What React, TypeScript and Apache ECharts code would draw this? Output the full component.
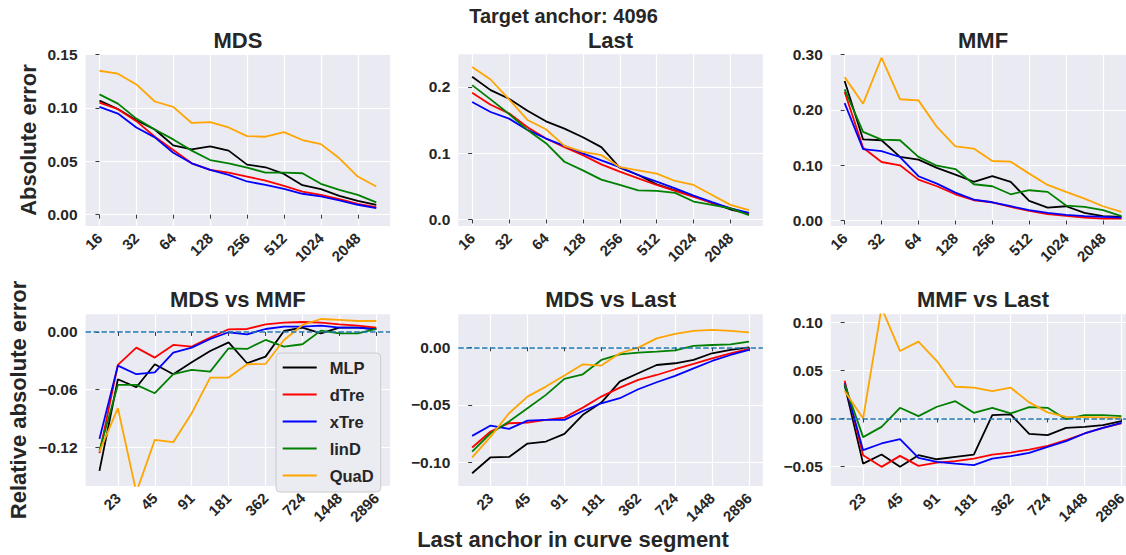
import React, { useEffect, useRef } from "react";
import * as echarts from "echarts";

// ---------- data ----------
const anchors = ["16", "23", "32", "45", "64", "91", "128", "181", "256", "362", "512", "724", "1024", "1448", "2048", "2896"];
const models = ["MLP", "dTre", "xTre", "linD", "QuaD"];
const modelColors = ["#000000", "#ff0000", "#0000ff", "#008000", "#ffa500"];

const topTickIdx = [0, 2, 4, 6, 8, 10, 12, 14];
const bottomTickIdx = [1, 3, 5, 7, 9, 11, 13, 15];

// MDS (absolute error)
const mdsMLP = [0.1068, 0.099, 0.0885, 0.0798, 0.0649, 0.0612, 0.064, 0.06, 0.0469, 0.0444, 0.0382, 0.0276, 0.0239, 0.0177, 0.013, 0.0093];
const mdsDTre = [0.105, 0.0988, 0.0876, 0.073, 0.0606, 0.0481, 0.0419, 0.0394, 0.0357, 0.032, 0.027, 0.0217, 0.0186, 0.0146, 0.0102, 0.0071];
const mdsXTre = [0.101, 0.0947, 0.0817, 0.0724, 0.058, 0.0481, 0.0419, 0.0373, 0.0311, 0.028, 0.0242, 0.0196, 0.0171, 0.0134, 0.0093, 0.0062];
const mdsLinD = [0.1127, 0.104, 0.09, 0.0798, 0.0705, 0.06, 0.0512, 0.0481, 0.0441, 0.0394, 0.0394, 0.0388, 0.0289, 0.0233, 0.0186, 0.0115];
const mdsQuaD = [0.1348, 0.132, 0.122, 0.106, 0.101, 0.0859, 0.0866, 0.0817, 0.0736, 0.073, 0.0773, 0.0699, 0.0661, 0.0528, 0.0357, 0.0264];

// Last (absolute error)
const lastMLP = [0.215, 0.195, 0.182, 0.164, 0.148, 0.137, 0.124, 0.109, 0.078, 0.067, 0.053, 0.044, 0.035, 0.025, 0.015, 0.009];
const lastDTre = [0.191, 0.173, 0.16, 0.139, 0.122, 0.109, 0.097, 0.083, 0.072, 0.062, 0.052, 0.043, 0.034, 0.025, 0.0166, 0.008];
const lastXTre = [0.177, 0.162, 0.152, 0.135, 0.122, 0.111, 0.0995, 0.089, 0.079, 0.067, 0.057, 0.047, 0.036, 0.026, 0.0166, 0.01];
const lastLinD = [0.2025, 0.181, 0.159, 0.135, 0.115, 0.087, 0.074, 0.06, 0.052, 0.044, 0.043, 0.04, 0.027, 0.022, 0.0166, 0.0065];
const lastQuaD = [0.23, 0.211, 0.181, 0.15, 0.136, 0.111, 0.102, 0.097, 0.079, 0.074, 0.069, 0.058, 0.052, 0.037, 0.022, 0.014];

// MMF (absolute error)
const mmfMLP = [0.252, 0.1465, 0.145, 0.115, 0.11, 0.095, 0.083, 0.07, 0.08, 0.0697, 0.0354, 0.0234, 0.0258, 0.0138, 0.0078, 0.0066];
const mmfDTre = [0.232, 0.1315, 0.1057, 0.0997, 0.0739, 0.0619, 0.0474, 0.0366, 0.033, 0.0246, 0.0174, 0.0114, 0.0084, 0.0054, 0.0036, 0.0036];
const mmfXTre = [0.212, 0.129, 0.1255, 0.1147, 0.08, 0.0667, 0.0505, 0.0378, 0.033, 0.0258, 0.0186, 0.0138, 0.0102, 0.0078, 0.0066, 0.0054];
const mmfLinD = [0.237, 0.16, 0.146, 0.145, 0.115, 0.099, 0.093, 0.0655, 0.0619, 0.0474, 0.0547, 0.0517, 0.027, 0.0246, 0.0186, 0.0078];
const mmfQuaD = [0.259, 0.211, 0.294, 0.219, 0.217, 0.169, 0.134, 0.13, 0.1075, 0.1063, 0.0847, 0.0643, 0.0517, 0.0396, 0.0258, 0.0156];

// MDS vs MMF (relative absolute error)
const mdsMmfMLP = [-0.1446, -0.0492, -0.0576, -0.0336, -0.044, -0.0316, -0.0198, -0.0108, -0.0326, -0.0257, 0.001, 0.0045, -0.0014, 0.0045, 0.0045, 0.0031];
const mdsMmfDTre = [-0.1262, -0.0343, -0.0163, -0.0267, -0.0135, -0.0153, -0.0059, 0.0028, 0.0031, 0.008, 0.0097, 0.0104, 0.0097, 0.008, 0.0066, 0.0045];
const mdsMmfXTre = [-0.1113, -0.035, -0.044, -0.042, -0.0215, -0.0163, -0.0073, -0.0003, -0.0024, 0.0031, 0.0055, 0.0055, 0.0066, 0.0045, 0.0045, 0.0028];
const mdsMmfLinD = [-0.1238, -0.0551, -0.0551, -0.0638, -0.044, -0.0395, -0.0413, -0.017, -0.0177, -0.0083, -0.0153, -0.0128, 0.0014, -0.0014, -0.0014, 0.0031];
const mdsMmfQuaD = [-0.1245, -0.0794, -0.167, -0.1124, -0.1148, -0.0846, -0.0475, -0.0475, -0.0336, -0.0333, -0.0083, 0.0073, 0.0135, 0.0125, 0.0114, 0.0114];

// MDS vs Last
const mdsLastMLP = [-0.1096, -0.0957, -0.0954, -0.0838, -0.082, -0.0754, -0.0588, -0.0481, -0.0299, -0.0226, -0.0154, -0.0139, -0.011, -0.0052, -0.0023, 0.0];
const mdsLastDTre = [-0.0872, -0.0733, -0.0661, -0.0655, -0.0632, -0.0612, -0.0525, -0.0429, -0.0351, -0.0284, -0.0241, -0.0191, -0.0145, -0.0096, -0.0052, -0.0014];
const mdsLastXTre = [-0.0771, -0.0681, -0.071, -0.0638, -0.0632, -0.0632, -0.0554, -0.0487, -0.0443, -0.0365, -0.0304, -0.0249, -0.0183, -0.0119, -0.0067, -0.0023];
const mdsLastLinD = [-0.0907, -0.0748, -0.0646, -0.053, -0.0414, -0.0275, -0.0235, -0.011, -0.0061, -0.0046, -0.0038, -0.0026, 0.0012, 0.002, 0.0026, 0.0049];
const mdsLastQuaD = [-0.0957, -0.0777, -0.0574, -0.0429, -0.0342, -0.0246, -0.0148, -0.0159, -0.0052, -0.0003, 0.0078, 0.0116, 0.0142, 0.0151, 0.0142, 0.013];

// MMF vs Last
const mmfLastMLP = [0.0347, -0.0469, -0.0375, -0.0503, -0.0382, -0.0424, -0.0399, -0.0375, 0.0035, 0.0042, -0.016, -0.0174, -0.0097, -0.0087, -0.0069, -0.0028];
const mmfLastDTre = [0.0392, -0.0382, -0.0503, -0.0389, -0.0493, -0.0458, -0.0444, -0.0417, -0.0375, -0.0354, -0.0323, -0.0285, -0.0226, -0.0156, -0.0097, -0.0052];
const mmfLastXTre = [0.0365, -0.033, -0.026, -0.0215, -0.041, -0.0451, -0.0469, -0.0486, -0.0417, -0.0392, -0.0358, -0.0295, -0.0236, -0.0156, -0.0097, -0.0045];
const mmfLastLinD = [0.0354, -0.0194, -0.0087, 0.0111, 0.0024, 0.0122, 0.018, 0.0059, 0.0111, 0.0052, 0.0118, 0.0111, -0.0007, 0.0035, 0.0035, 0.0024];
const mmfLastQuaD = [0.0285, 0.0, 0.115, 0.0701, 0.0799, 0.0597, 0.033, 0.032, 0.0285, 0.032, 0.0167, 0.0063, 0.0017, 0.0014, 0.001, 0.0007];

// y tick values
const mdsTicks = [0, 0.05, 0.1, 0.15];
const lastTicks = [0, 0.1, 0.2];
const mmfTicks = [0, 0.1, 0.2, 0.3];
const mdsMmfTicks = [-0.12, -0.06, 0];
const mdsLastTicks = [-0.1, -0.05, 0];
const mmfLastTicks = [-0.05, 0, 0.05, 0.1];

const panels = [
  { title: "MDS", row: 0, col: 0, series: [mdsMLP, mdsDTre, mdsXTre, mdsLinD, mdsQuaD], yMin: -0.0105, yMax: 0.1502, ticks: mdsTicks, dec: 2, zero: false },
  { title: "Last", row: 0, col: 1, series: [lastMLP, lastDTre, lastXTre, lastLinD, lastQuaD], yMin: -0.0097, yMax: 0.249, ticks: lastTicks, dec: 1, zero: false },
  { title: "MMF", row: 0, col: 2, series: [mmfMLP, mmfDTre, mmfXTre, mmfLinD, mmfQuaD], yMin: -0.0097, yMax: 0.3002, ticks: mmfTicks, dec: 2, zero: false },
  { title: "MDS vs MMF", row: 1, col: 0, series: [mdsMmfMLP, mdsMmfDTre, mdsMmfXTre, mdsMmfLinD, mdsMmfQuaD], yMin: -0.1603, yMax: 0.0184, ticks: mdsMmfTicks, dec: 2, zero: true },
  { title: "MDS vs Last", row: 1, col: 1, series: [mdsLastMLP, mdsLastDTre, mdsLastXTre, mdsLastLinD, mdsLastQuaD], yMin: -0.1206, yMax: 0.0287, ticks: mdsLastTicks, dec: 2, zero: true },
  { title: "MMF vs Last", row: 1, col: 2, series: [mmfLastMLP, mmfLastDTre, mmfLastXTre, mmfLastLinD, mmfLastQuaD], yMin: -0.0701, yMax: 0.1083, ticks: mmfLastTicks, dec: 2, zero: true },
];

// ---------- layout ----------
const FONT = '"Liberation Sans", Arial, Helvetica, sans-serif';
const TEXT = "#262626";
const colLeft = [85.6, 458.3, 830.8];
const gridW = 304.5;
const rowTop = [54.3, 314.3];
const gridH = 171.6;

function fmtY(v: number, dec: number) {
  const s = Math.abs(v).toFixed(dec);
  return (v < -1e-9 ? "\u2212" : "") + s;
}

export default function App() {
  const ref = useRef<HTMLDivElement>(null);
  useEffect(() => {
    if (!ref.current) return;
    const chart = echarts.init(ref.current, null, { renderer: "svg" });

    const grids: any[] = [];
    const xAxes: any[] = [];
    const yAxes: any[] = [];
    const series: any[] = [];
    const graphics: any[] = [];

    panels.forEach((p, i) => {
      const left = colLeft[p.col];
      const top = rowTop[p.row];
      grids.push({ left, top, width: gridW, height: gridH, containLabel: false, outerBoundsMode: "none", show: true, backgroundColor: "#EAEAF2", borderWidth: 0 });
      const tickIdx = p.row === 0 ? topTickIdx : bottomTickIdx;
      xAxes.push({
        type: "value",
        gridIndex: i,
        min: -0.75,
        max: 15.75,
        axisLine: { show: false },
        axisTick: { show: true, length: 4, customValues: tickIdx, lineStyle: { color: "#3a3a3a", width: 1 } },
        axisLabel: {
          customValues: tickIdx,
          rotate: 45,
          margin: 9.5,
          fontSize: 15,
          fontWeight: "bold",
          fontFamily: FONT,
          color: TEXT,
          formatter: (v: number) => anchors[Math.round(v)],
        },
        splitLine: { show: true, lineStyle: { color: "#ffffff", width: 1.2 } },
      });
      yAxes.push({
        type: "value",
        gridIndex: i,
        min: p.yMin,
        max: p.yMax,
        axisLine: { show: false },
        axisTick: { show: true, length: 4, customValues: p.ticks, lineStyle: { color: "#3a3a3a", width: 1 } },
        axisLabel: {
          customValues: p.ticks,
          margin: 8,
          fontSize: 15.5,
          fontWeight: "bold",
          fontFamily: FONT,
          color: TEXT,
          formatter: (v: number) => fmtY(v, p.dec),
        },
        splitLine: { show: true, lineStyle: { color: "#ffffff", width: 1.2 } },
      });
      p.series.forEach((vals, m) => {
        const s: any = {
          type: "line",
          name: models[m],
          xAxisIndex: i,
          yAxisIndex: i,
          data: vals.map((v, k) => [k, v]),
          showSymbol: false,
          symbol: "none",
          clip: true,
          lineStyle: { color: modelColors[m], width: 1.8 },
          itemStyle: { color: modelColors[m] },
          emphasis: { disabled: true },
          z: 3,
        };
        if (p.zero && m === 0) {
          s.markLine = {
            silent: true,
            symbol: ["none", "none"],
            label: { show: false },
            lineStyle: { color: "#1f77b4", type: [5.5, 2.4], width: 1.5 },
            data: [{ yAxis: 0 }],
          };
        }
        series.push(s);
      });
      graphics.push({
        type: "text",
        x: left + gridW / 2,
        y: p.row === 0 ? 40 : 299,
        style: { text: p.title, fontSize: 22, fontWeight: "bold", fontFamily: FONT, fill: TEXT, align: "center", verticalAlign: "middle" },
      });
    });

    graphics.push({
      type: "text",
      x: 563.5,
      y: 16,
      style: { text: "Target anchor: 4096", fontSize: 20, fontWeight: "bold", fontFamily: FONT, fill: TEXT, align: "center", verticalAlign: "middle" },
    });
    graphics.push({
      type: "text",
      x: 573,
      y: 539,
      style: { text: "Last anchor in curve segment", fontSize: 22, fontWeight: "bold", fontFamily: FONT, fill: TEXT, align: "center", verticalAlign: "middle" },
    });
    graphics.push({
      type: "text",
      x: 28.7,
      y: 140,
      rotation: Math.PI / 2,
      style: { text: "Absolute error", fontSize: 22, fontWeight: "bold", fontFamily: FONT, fill: TEXT, align: "center", verticalAlign: "middle" },
    });
    graphics.push({
      type: "text",
      x: 18.8,
      y: 400,
      rotation: Math.PI / 2,
      style: { text: "Relative absolute error", fontSize: 22, fontWeight: "bold", fontFamily: FONT, fill: TEXT, align: "center", verticalAlign: "middle" },
    });

    chart.setOption({
      animation: false,
      backgroundColor: "#ffffff",
      grid: grids,
      xAxis: xAxes,
      yAxis: yAxes,
      series,
      graphic: graphics,
      legend: {
        data: models,
        orient: "vertical",
        left: 276,
        top: 353,
        padding: [6, 7, 8, 6.7],
        itemGap: 10,
        itemWidth: 34,
        itemHeight: 2,
        icon: "rect",
        backgroundColor: "#EBEBF2",
        borderColor: "#cccccc",
        borderWidth: 1,
        borderRadius: 4,
        selectedMode: false,
        textStyle: { fontSize: 16.5, fontWeight: "bold", fontFamily: FONT, color: TEXT, lineHeight: 14, padding: [0, 0, 0, 8] },
        z: 10,
      },
    });
    return () => chart.dispose();
  }, []);
  return <div ref={ref} style={{ position: "absolute", left: 0, top: 0, width: 1126, height: 555 }} />;
}
